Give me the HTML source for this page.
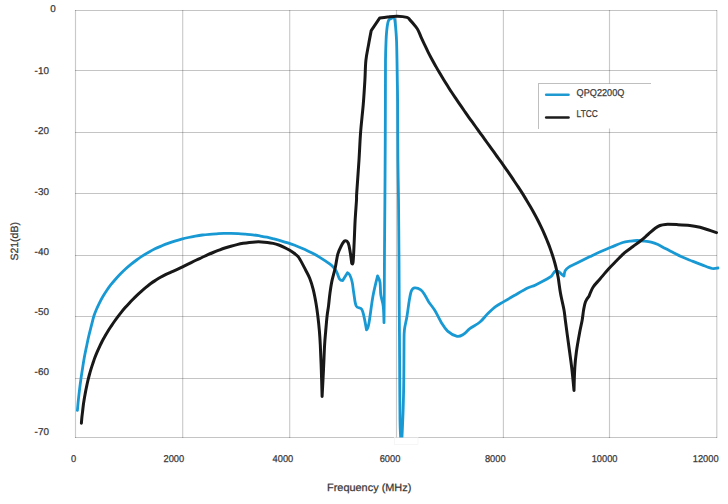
<!DOCTYPE html>
<html><head><meta charset="utf-8"><style>
html,body{margin:0;padding:0;background:#fff;}
body{width:728px;height:504px;overflow:hidden;position:relative;}
svg{position:absolute;left:0;top:0;text-rendering:geometricPrecision;}
text{font-family:"Liberation Sans",sans-serif;fill:#383838;stroke:#383838;stroke-width:0.25px;}
</style></head><body>
<svg width="728" height="504" viewBox="0 0 728 504">
<defs><clipPath id="pc"><rect x="60" y="0" width="668" height="437.5"/></clipPath></defs>
<g stroke="#000" stroke-opacity="0.23" stroke-width="1" fill="none" shape-rendering="crispEdges">
<line x1="75" y1="10.5" x2="717" y2="10.5"/>
<line x1="75" y1="70.5" x2="717" y2="70.5"/>
<line x1="75" y1="132.5" x2="717" y2="132.5"/>
<line x1="75" y1="193.5" x2="717" y2="193.5"/>
<line x1="75" y1="255.5" x2="717" y2="255.5"/>
<line x1="75" y1="316.5" x2="717" y2="316.5"/>
<line x1="75" y1="378.5" x2="717" y2="378.5"/>
<line x1="75" y1="437.5" x2="717" y2="437.5"/>
</g>
<g stroke="#000" stroke-opacity="0.21" stroke-width="1.15" fill="none">
<line x1="75.5" y1="10" x2="75.5" y2="438"/>
<line x1="182.7" y1="10" x2="182.7" y2="438"/>
<line x1="289.7" y1="10" x2="289.7" y2="438"/>
<line x1="396.5" y1="10" x2="396.5" y2="438"/>
<line x1="503.4" y1="10" x2="503.4" y2="438"/>
<line x1="609.5" y1="10" x2="609.5" y2="438"/>
<line x1="716.8" y1="10" x2="716.8" y2="438"/>
</g>
<rect x="394.5" y="437.5" width="23.5" height="7" fill="none" stroke="#f0f0f0" stroke-width="0.6"/>
<g clip-path="url(#pc)" fill="none" stroke-linejoin="round" stroke-linecap="round">
<path d="M77.40 410.40 C77.57 408.62 78.03 403.25 78.40 399.70 C78.77 396.15 79.17 392.63 79.60 389.10 C80.03 385.57 80.50 382.02 81.00 378.50 C81.50 374.98 82.05 371.48 82.60 368.00 C83.15 364.52 83.67 361.08 84.30 357.60 C84.93 354.12 85.68 350.58 86.40 347.10 C87.12 343.62 87.80 340.15 88.60 336.70 C89.40 333.25 90.32 329.85 91.20 326.40 C92.08 322.95 93.02 318.85 93.90 316.00 C94.78 313.15 95.57 311.50 96.50 309.30 C97.43 307.10 98.43 304.93 99.50 302.80 C100.57 300.67 101.70 298.55 102.90 296.50 C104.10 294.45 105.37 292.47 106.70 290.50 C108.03 288.53 109.43 286.58 110.90 284.70 C112.37 282.82 113.93 280.98 115.50 279.20 C117.07 277.42 118.63 275.70 120.30 274.00 C121.97 272.30 123.73 270.60 125.50 269.00 C127.27 267.40 129.05 265.90 130.90 264.40 C132.75 262.90 134.67 261.42 136.60 260.00 C138.53 258.58 140.48 257.20 142.50 255.90 C144.52 254.60 146.62 253.38 148.70 252.20 C150.78 251.02 152.88 249.83 155.00 248.80 C157.12 247.77 159.23 246.90 161.40 246.00 C163.57 245.10 165.78 244.20 168.00 243.40 C170.22 242.60 172.45 241.90 174.70 241.20 C176.95 240.50 179.22 239.82 181.50 239.20 C183.78 238.58 186.08 238.02 188.40 237.50 C190.72 236.98 193.07 236.52 195.40 236.10 C197.73 235.68 200.05 235.30 202.40 235.00 C204.75 234.70 207.12 234.50 209.50 234.30 C211.88 234.10 214.32 233.95 216.70 233.80 C219.08 233.65 221.42 233.47 223.80 233.40 C226.18 233.33 228.60 233.35 231.00 233.40 C233.40 233.45 235.78 233.57 238.20 233.70 C240.62 233.83 243.08 234.02 245.50 234.20 C247.92 234.38 250.32 234.52 252.70 234.80 C255.08 235.08 257.42 235.50 259.80 235.90 C262.18 236.30 264.63 236.70 267.00 237.20 C269.37 237.70 271.67 238.30 274.00 238.90 C276.33 239.50 278.68 240.13 281.00 240.80 C283.32 241.47 285.62 242.15 287.90 242.90 C290.18 243.65 292.47 244.45 294.70 245.30 C296.93 246.15 299.12 247.07 301.30 248.00 C303.48 248.93 305.67 249.88 307.80 250.90 C309.93 251.92 312.03 252.98 314.10 254.10 C316.17 255.22 318.20 256.38 320.20 257.60 C322.20 258.82 324.18 260.08 326.10 261.40 C328.02 262.72 330.00 263.88 331.70 265.50 C333.40 267.12 335.00 268.85 336.30 271.10 C337.60 273.35 338.43 277.42 339.50 279.00 C340.57 280.58 342.70 280.60 342.70 280.60 C342.70 280.60 347.50 272.70 347.50 272.70 C347.50 272.70 349.02 273.42 349.80 275.00 C350.58 276.58 351.53 279.15 352.20 282.20 C352.87 285.25 353.13 289.33 353.80 293.30 C354.47 297.27 354.88 303.35 356.20 306.00 C357.52 308.65 360.38 307.35 361.70 309.20 C363.02 311.05 363.30 313.67 364.10 317.10 C364.90 320.53 366.50 329.80 366.50 329.80 C366.50 329.80 367.83 329.05 368.90 323.50 C369.97 317.95 371.45 304.43 372.90 296.50 C374.35 288.57 377.60 275.90 377.60 275.90 C377.60 275.90 379.47 279.03 380.00 282.20 C380.53 285.37 380.27 290.93 380.80 294.90 C381.33 298.87 382.67 301.37 383.20 306.00 C383.73 310.63 384.00 322.70 384.00 322.70 C384.00 322.70 384.22 302.12 384.30 290.00 C384.38 277.88 384.40 265.00 384.50 250.00 C384.60 235.00 384.78 216.67 384.90 200.00 C385.02 183.33 385.12 166.67 385.20 150.00 C385.28 133.33 385.35 115.00 385.40 100.00 C385.45 85.00 385.38 70.00 385.50 60.00 C385.62 50.00 385.92 44.70 386.10 40.00 C386.28 35.30 386.35 34.48 386.60 31.80 C386.85 29.12 387.22 25.88 387.60 23.90 C387.98 21.92 388.22 20.83 388.90 19.90 C389.58 18.97 390.85 18.60 391.70 18.30 C392.55 18.00 393.48 17.83 394.00 18.10 C394.52 18.37 394.47 17.62 394.80 19.90 C395.13 22.18 395.70 28.12 396.00 31.80 C396.30 35.48 396.43 37.30 396.60 42.00 C396.77 46.70 396.88 53.67 397.00 60.00 C397.12 66.33 397.20 73.33 397.30 80.00 C397.40 86.67 397.50 86.67 397.60 100.00 C397.70 113.33 397.75 143.33 397.90 160.00 C398.05 176.67 398.32 183.33 398.50 200.00 C398.68 216.67 398.88 243.33 399.00 260.00 C399.12 276.67 399.12 286.67 399.20 300.00 C399.28 313.33 399.42 327.00 399.50 340.00 C399.58 353.00 399.62 364.67 399.70 378.00 C399.78 391.33 399.85 410.17 400.00 420.00 C400.15 429.83 400.40 432.33 400.60 437.00 C400.80 441.67 401.20 448.00 401.20 448.00 C401.20 448.00 401.67 443.67 402.00 437.00 C402.33 430.33 402.90 417.83 403.20 408.00 C403.50 398.17 403.67 388.67 403.80 378.00 C403.93 367.33 403.90 352.00 404.00 344.00 C404.10 336.00 403.92 334.55 404.40 330.00 C404.88 325.45 406.07 321.73 406.90 316.70 C407.73 311.67 408.65 304.10 409.40 299.80 C410.15 295.50 410.50 292.88 411.40 290.90 C412.30 288.92 413.23 288.07 414.80 287.90 C416.37 287.73 419.13 288.73 420.80 289.90 C422.47 291.07 423.50 292.93 424.80 294.90 C426.10 296.87 426.92 299.10 428.60 301.70 C430.28 304.30 432.78 307.05 434.90 310.50 C437.02 313.95 439.18 318.97 441.30 322.40 C443.42 325.83 444.97 328.78 447.60 331.10 C450.23 333.42 454.45 335.77 457.10 336.30 C459.75 336.83 461.38 335.57 463.50 334.30 C465.62 333.03 467.05 330.75 469.80 328.70 C472.55 326.65 476.98 324.53 480.00 322.00 C483.02 319.47 485.25 316.12 487.90 313.50 C490.55 310.88 493.25 308.28 495.90 306.30 C498.55 304.32 500.63 303.45 503.80 301.60 C506.97 299.75 510.93 297.45 514.90 295.20 C518.87 292.95 524.15 289.82 527.60 288.10 C531.05 286.38 531.90 286.70 535.60 284.90 C539.30 283.10 546.95 279.07 549.80 277.30 C552.65 275.53 551.82 275.30 552.70 274.30 C553.58 273.30 554.20 271.80 555.10 271.30 C556.00 270.80 557.00 270.80 558.10 271.30 C559.20 271.80 560.72 273.52 561.70 274.30 C562.68 275.08 564.00 276.00 564.00 276.00 C564.00 276.00 564.40 272.18 565.20 270.70 C566.00 269.22 567.00 268.28 568.80 267.10 C570.60 265.92 572.47 265.35 576.00 263.60 C579.53 261.85 585.95 258.58 590.00 256.60 C594.05 254.62 596.80 253.25 600.30 251.70 C603.80 250.15 607.27 248.83 611.00 247.30 C614.73 245.77 619.53 243.52 622.70 242.50 C625.87 241.48 627.63 241.53 630.00 241.20 C632.37 240.87 634.57 240.53 636.90 240.50 C639.23 240.47 641.63 240.73 644.00 241.00 C646.37 241.27 648.77 241.50 651.10 242.10 C653.43 242.70 655.62 243.52 658.00 244.60 C660.38 245.68 662.82 247.25 665.40 248.60 C667.98 249.95 670.80 251.33 673.50 252.70 C676.20 254.07 678.52 255.42 681.60 256.80 C684.68 258.18 688.60 259.65 692.00 261.00 C695.40 262.35 698.65 263.65 702.00 264.90 C705.35 266.15 709.43 267.98 712.10 268.50 C714.77 269.02 717.02 268.08 718.00 268.00" stroke="#1899d3" stroke-width="2.8"/>
<path d="M81.40 423.20 C81.48 422.20 81.70 419.18 81.90 417.20 C82.10 415.22 82.37 413.30 82.60 411.30 C82.83 409.30 83.03 407.22 83.30 405.20 C83.57 403.18 83.87 401.22 84.20 399.20 C84.53 397.18 84.92 395.13 85.30 393.10 C85.68 391.07 86.08 389.02 86.50 387.00 C86.92 384.98 87.33 383.00 87.80 381.00 C88.27 379.00 88.77 376.98 89.30 375.00 C89.83 373.02 90.40 371.05 91.00 369.10 C91.60 367.15 92.25 365.23 92.90 363.30 C93.55 361.37 94.18 359.40 94.90 357.50 C95.62 355.60 96.40 353.75 97.20 351.90 C98.00 350.05 98.85 348.22 99.70 346.40 C100.55 344.58 101.38 342.77 102.30 341.00 C103.22 339.23 104.22 337.52 105.20 335.80 C106.18 334.08 107.17 332.37 108.20 330.70 C109.23 329.03 110.32 327.42 111.40 325.80 C112.48 324.18 113.58 322.57 114.70 321.00 C115.82 319.43 116.95 317.92 118.10 316.40 C119.25 314.88 120.42 313.37 121.60 311.90 C122.78 310.43 123.97 309.02 125.20 307.60 C126.43 306.18 127.70 304.80 129.00 303.40 C130.30 302.00 131.63 300.58 133.00 299.20 C134.37 297.82 135.77 296.45 137.20 295.10 C138.63 293.75 140.10 292.42 141.60 291.10 C143.10 289.78 144.67 288.47 146.20 287.20 C147.73 285.93 149.23 284.65 150.80 283.50 C152.37 282.35 153.98 281.33 155.60 280.30 C157.22 279.27 158.85 278.25 160.50 277.30 C162.15 276.35 163.82 275.43 165.50 274.60 C167.18 273.77 168.90 273.05 170.60 272.30 C172.30 271.55 173.98 270.87 175.70 270.10 C177.42 269.33 179.18 268.52 180.90 267.70 C182.62 266.88 184.28 266.05 186.00 265.20 C187.72 264.35 189.45 263.47 191.20 262.60 C192.95 261.73 194.72 260.85 196.50 260.00 C198.28 259.15 200.08 258.35 201.90 257.50 C203.72 256.65 205.53 255.73 207.40 254.90 C209.27 254.07 211.18 253.28 213.10 252.50 C215.02 251.72 216.93 250.95 218.90 250.20 C220.87 249.45 222.90 248.67 224.90 248.00 C226.90 247.33 228.88 246.77 230.90 246.20 C232.92 245.63 234.95 245.08 237.00 244.60 C239.05 244.12 241.15 243.67 243.20 243.30 C245.25 242.93 247.27 242.63 249.30 242.40 C251.33 242.17 253.37 241.98 255.40 241.90 C257.43 241.82 259.50 241.82 261.50 241.90 C263.50 241.98 265.45 242.15 267.40 242.40 C269.35 242.65 271.30 242.97 273.20 243.40 C275.10 243.83 276.97 244.35 278.80 245.00 C280.63 245.65 282.45 246.47 284.20 247.30 C285.95 248.13 287.63 249.00 289.30 250.00 C290.97 251.00 292.62 252.05 294.20 253.30 C295.78 254.55 296.90 254.72 298.80 257.50 C300.70 260.28 303.78 266.53 305.60 270.00 C307.42 273.47 308.43 275.07 309.70 278.30 C310.97 281.53 312.15 285.23 313.20 289.40 C314.25 293.57 315.23 298.90 316.00 303.30 C316.77 307.70 317.23 311.17 317.80 315.80 C318.37 320.43 318.98 326.23 319.40 331.10 C319.82 335.97 319.98 338.62 320.30 345.00 C320.62 351.38 321.00 360.82 321.30 369.40 C321.60 377.98 322.10 396.50 322.10 396.50 C322.10 396.50 323.08 377.98 323.50 369.40 C323.92 360.82 324.23 351.38 324.60 345.00 C324.97 338.62 325.28 335.97 325.70 331.10 C326.12 326.23 326.63 319.97 327.10 315.80 C327.57 311.63 328.03 309.80 328.50 306.10 C328.97 302.40 329.33 297.77 329.90 293.60 C330.47 289.43 331.02 285.37 331.90 281.10 C332.78 276.83 334.22 272.48 335.20 268.00 C336.18 263.52 336.78 257.90 337.80 254.20 C338.82 250.50 340.15 248.00 341.30 245.80 C342.45 243.60 343.55 241.47 344.70 241.00 C345.85 240.53 347.27 241.03 348.20 243.00 C349.13 244.97 349.72 249.43 350.30 252.80 C350.88 256.17 351.70 263.20 351.70 263.20 C351.70 263.20 352.68 265.38 353.10 261.80 C353.52 258.22 353.87 248.53 354.20 241.70 C354.53 234.87 354.72 227.75 355.10 220.80 C355.48 213.85 356.23 204.58 356.50 200.00 C356.77 195.42 356.28 199.97 356.70 193.30 C357.12 186.63 358.35 170.15 359.00 160.00 C359.65 149.85 359.88 141.77 360.60 132.40 C361.32 123.03 362.58 112.53 363.30 103.80 C364.02 95.07 364.47 87.25 364.90 80.00 C365.33 72.75 365.28 66.23 365.90 60.30 C366.52 54.37 367.72 49.35 368.60 44.40 C369.48 39.45 371.20 30.60 371.20 30.60 C371.20 30.60 379.80 17.90 379.80 17.90 C379.80 17.90 384.72 17.18 387.60 16.90 C390.48 16.62 393.88 16.12 397.10 16.20 C400.32 16.28 404.77 16.78 406.90 17.40 C409.03 18.02 408.40 18.32 409.90 19.90 C411.40 21.48 414.48 25.08 415.90 26.90 C417.32 28.72 417.48 28.97 418.40 30.80 C419.32 32.63 420.35 35.55 421.40 37.90 C422.45 40.25 423.60 42.58 424.70 44.90 C425.80 47.22 426.85 49.50 428.00 51.80 C429.15 54.10 430.38 56.43 431.60 58.70 C432.82 60.97 434.05 63.17 435.30 65.40 C436.55 67.63 437.80 69.88 439.10 72.10 C440.40 74.32 441.75 76.50 443.10 78.70 C444.45 80.90 445.83 83.12 447.20 85.30 C448.57 87.48 449.90 89.65 451.30 91.80 C452.70 93.95 454.15 96.07 455.60 98.20 C457.05 100.33 458.53 102.47 460.00 104.60 C461.47 106.73 462.93 108.88 464.40 111.00 C465.87 113.12 467.30 115.20 468.80 117.30 C470.30 119.40 471.88 121.50 473.40 123.60 C474.92 125.70 476.38 127.80 477.90 129.90 C479.42 132.00 480.98 134.10 482.50 136.20 C484.02 138.30 485.48 140.40 487.00 142.50 C488.52 144.60 490.08 146.70 491.60 148.80 C493.12 150.90 494.58 153.00 496.10 155.10 C497.62 157.20 499.20 159.30 500.70 161.40 C502.20 163.50 503.62 165.58 505.10 167.70 C506.58 169.82 508.13 171.97 509.60 174.10 C511.07 176.23 512.47 178.37 513.90 180.50 C515.33 182.63 516.78 184.75 518.20 186.90 C519.62 189.05 521.03 191.22 522.40 193.40 C523.77 195.58 525.08 197.80 526.40 200.00 C527.72 202.20 529.02 204.38 530.30 206.60 C531.58 208.82 532.87 211.07 534.10 213.30 C535.33 215.53 536.53 217.73 537.70 220.00 C538.87 222.27 540.00 224.60 541.10 226.90 C542.20 229.20 543.28 231.48 544.30 233.80 C545.32 236.12 546.25 238.45 547.20 240.80 C548.15 243.15 549.12 245.50 550.00 247.90 C550.88 250.30 551.72 252.77 552.50 255.20 C553.28 257.63 554.02 260.03 554.70 262.50 C555.38 264.97 556.02 267.48 556.60 270.00 C557.18 272.52 557.55 273.72 558.20 277.60 C558.85 281.48 559.53 287.90 560.50 293.30 C561.47 298.70 563.20 305.55 564.00 310.00 C564.80 314.45 564.55 314.37 565.30 320.00 C566.05 325.63 567.43 335.87 568.50 343.80 C569.57 351.73 570.78 359.83 571.70 367.60 C572.62 375.37 574.00 390.40 574.00 390.40 C574.00 390.40 574.40 374.05 574.80 367.60 C575.20 361.15 575.60 357.52 576.40 351.70 C577.20 345.88 578.63 337.98 579.60 332.70 C580.57 327.42 581.53 323.78 582.20 320.00 C582.87 316.22 583.05 313.05 583.60 310.00 C584.15 306.95 584.60 303.98 585.50 301.70 C586.40 299.42 589.00 296.30 589.00 296.30 C589.00 296.30 591.37 289.88 593.20 287.00 C595.03 284.12 597.45 282.00 600.00 279.00 C602.55 276.00 605.75 272.03 608.50 269.00 C611.25 265.97 613.80 263.52 616.50 260.80 C619.20 258.08 621.95 255.08 624.70 252.70 C627.45 250.32 630.28 248.53 633.00 246.50 C635.72 244.47 638.50 242.50 641.00 240.50 C643.50 238.50 645.63 236.53 648.00 234.50 C650.37 232.47 653.20 229.80 655.20 228.30 C657.20 226.80 658.30 226.15 660.00 225.50 C661.70 224.85 662.57 224.55 665.40 224.40 C668.23 224.25 672.93 224.43 677.00 224.60 C681.07 224.77 685.97 224.95 689.80 225.40 C693.63 225.85 696.97 226.57 700.00 227.30 C703.03 228.03 705.25 228.92 708.00 229.80 C710.75 230.68 715.08 232.13 716.50 232.60" stroke="#181818" stroke-width="3.0"/>
</g>
<g font-size="9.9">
<text transform="translate(50.2,11.8)">0</text>
<text transform="translate(34.6,73.6)">-10</text>
<text transform="translate(34.6,133.8)">-20</text>
<text transform="translate(34.6,194.5)">-30</text>
<text transform="translate(34.6,254.5)">-40</text>
<text transform="translate(34.6,314.7)">-50</text>
<text transform="translate(34.6,375.1)">-60</text>
<text transform="translate(34.6,435.4)">-70</text>
<text transform="translate(71.0,461.8) scale(0.94,1)">0</text>
<text transform="translate(163.5,461.8) scale(0.94,1)">2000</text>
<text transform="translate(272.6,461.8) scale(0.94,1)">4000</text>
<text transform="translate(379.7,461.8) scale(0.94,1)">6000</text>
<text transform="translate(484.9,461.8) scale(0.94,1)">8000</text>
<text transform="translate(591.7,461.8) scale(0.94,1)">10000</text>
<text transform="translate(692.8,461.8) scale(0.94,1)">12000</text>
</g>
<rect x="538.5" y="83.5" width="113" height="45" fill="#fff" stroke="none"/>
<path d="M538.5 129 V83.5 H651" stroke="#000" stroke-opacity="0.25" fill="none" stroke-width="1" shape-rendering="crispEdges"/>
<line x1="546.2" y1="94.7" x2="568.5" y2="94.7" stroke="#1e9ad0" stroke-width="2.6" stroke-linecap="round"/>
<line x1="546.2" y1="117.5" x2="568.5" y2="117.5" stroke="#1c1c1c" stroke-width="2.6" stroke-linecap="round"/>
<g font-size="9.9">
<text transform="translate(576.6,96) scale(0.925,1)">QPQ2200Q</text>
<text transform="translate(576.6,117.4) scale(0.85,1)">LTCC</text>
</g>
<text transform="translate(327,491) scale(1.04,1)" font-size="10.5">Frequency (MHz)</text>
<text transform="translate(18,260.6) rotate(-90)" font-size="10.5">S21(dB)</text>
</svg>
</body></html>
